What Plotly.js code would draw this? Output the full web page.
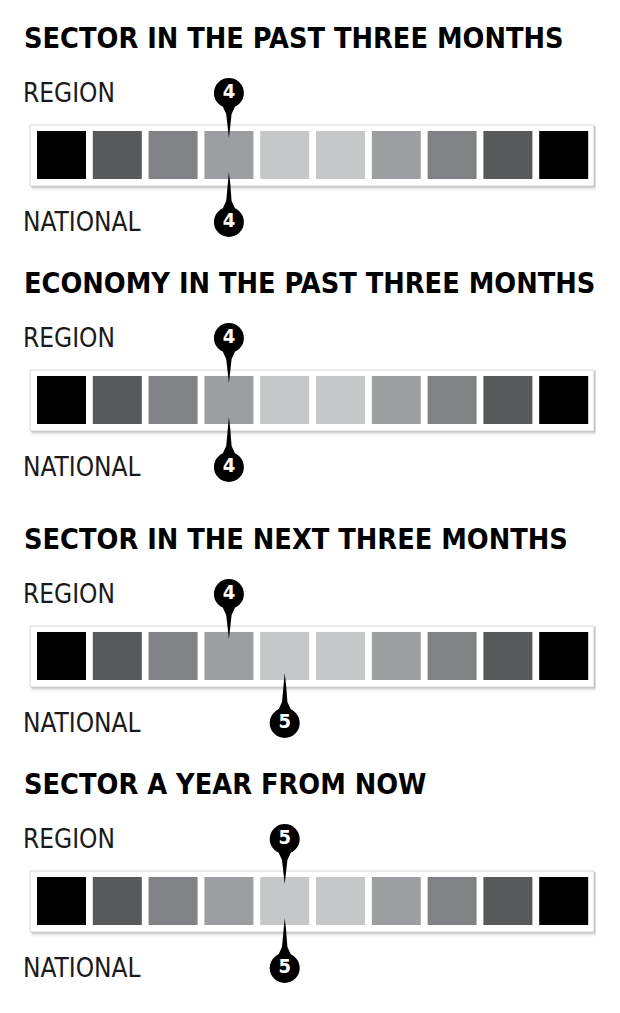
<!DOCTYPE html>
<html>
<head>
<meta charset="utf-8">
<script src="https://cdn.plot.ly/plotly-3.0.1.min.js"></script>
<style>html,body{margin:0;padding:0;background:#fff;}#chart{width:620px;height:1013px;}</style>
</head>
<body>
<div id="chart"></div>
<script>
// ---- data ----
const scaleSteps = [1, 2, 3, 4, 5, 6, 7, 8, 9, 10];
const panelTitles = [
  "SECTOR IN THE PAST THREE MONTHS",
  "ECONOMY IN THE PAST THREE MONTHS",
  "SECTOR IN THE NEXT THREE MONTHS",
  "SECTOR A YEAR FROM NOW"
];
const regionScores = [4, 4, 4, 5];
const nationalScores = [4, 4, 5, 5];
const rowLabels = ["REGION", "NATIONAL"];
const stepShades = ["#000000", "#58595b", "#808285", "#9c9ea1", "#c6c7c9",
                    "#c6c7c9", "#9c9ea1", "#808285", "#58595b", "#000000"];

// ---- layout constants (pixels) ----
const W = 620, H = 1013;
const squaresTop = [131, 376, 632, 877];
const pxPerStep = 55.8, firstCenter = 61.5;
const sqH = 48, sqW = 49;
const regionCy = -38, nationalCy = 91, circleR = 15;
const regionTip = 7, nationalTip = 41;
const CONDENSED = "DejaVu Sans Condensed, DejaVu Sans, sans-serif";

const xRange = [1 - firstCenter / pxPerStep, 1 + (W - firstCenter) / pxPerStep];
const u = 1 / pxPerStep; // x units per px

function tailPath(v, cy, tip, dir) {
  const L = Math.abs(tip - cy);
  const prof = [[7, 8], [circleR, 5.5], [circleR + 6, 2.7], [L - 12, 1.4], [L, 0]];
  const xs = [], ys = [];
  prof.forEach(p => { xs.push(v - p[1] * u); ys.push(cy + dir * p[0]); });
  for (let i = prof.length - 2; i >= 0; i--) { xs.push(v + prof[i][1] * u); ys.push(cy + dir * prof[i][0]); }
  return {xs, ys};
}

const data = [];
const layout = {
  width: W, height: H,
  margin: {l: 0, r: 0, t: 0, b: 0},
  paper_bgcolor: "#ffffff", plot_bgcolor: "#ffffff",
  showlegend: false,
  xaxis: {range: xRange, visible: false, fixedrange: true, domain: [0, 1]},
  shapes: [], annotations: []
};

panelTitles.forEach((title, k) => {
  const yName = k === 0 ? "y" : "y" + (k + 1);
  const yKey = k === 0 ? "yaxis" : "yaxis" + (k + 1);
  const top = squaresTop[k] - 110, bot = squaresTop[k] + 120;
  layout[yKey] = {
    domain: [1 - bot / H, 1 - top / H],
    range: [120, -110], visible: false, fixedrange: true, anchor: "x"
  };

  // frame shadow + frame
  const fx0 = 30 / W, fx1 = 594 / W;
  [[4.5, 0.04], [3, 0.06], [1.8, 0.09], [0.8, 0.12]].forEach(s => {
    layout.shapes.push({type: "rect", xref: "paper", yref: yName, layer: "below",
      x0: fx0 + 1.5 / W, x1: fx1 + 1.5 / W, y0: -5, y1: 55 + s[0],
      fillcolor: "rgba(0,0,0," + s[1] + ")", line: {width: 0}});
  });
  layout.shapes.push({type: "rect", xref: "paper", yref: yName, layer: "below",
    x0: fx0, x1: fx1, y0: -6, y1: 55,
    fillcolor: "#ffffff", line: {color: "#d6d6d6", width: 1}});

  // squares
  data.push({
    type: "bar", x: scaleSteps, y: scaleSteps.map(() => sqH), base: 0,
    width: sqW / pxPerStep, xaxis: "x", yaxis: yName,
    marker: {color: stepShades, line: {width: 0}},
    hoverinfo: "skip"
  });

  // tails
  const r = tailPath(regionScores[k], regionCy, regionTip, 1);
  const n = tailPath(nationalScores[k], nationalCy, nationalTip, -1);
  [r, n].forEach(t => data.push({
    type: "scatter", mode: "lines", x: t.xs, y: t.ys, fill: "toself",
    fillcolor: "#000000", line: {width: 0, color: "#000000"},
    xaxis: "x", yaxis: yName, hoverinfo: "skip"
  }));

  // circles with numbers
  data.push({
    type: "scatter", mode: "markers+text",
    x: [regionScores[k], nationalScores[k]], y: [regionCy, nationalCy],
    text: ["<b>" + regionScores[k] + "</b>", "<b>" + nationalScores[k] + "</b>"],
    textposition: "middle center",
    textfont: {family: CONDENSED, size: 20, color: "#ffffff"},
    marker: {size: 2 * circleR, color: "#000000", line: {width: 0}},
    xaxis: "x", yaxis: yName, hoverinfo: "skip", cliponaxis: false
  });

  // title
  layout.annotations.push({
    xref: "paper", yref: yName, x: 22 / W, y: -93, xanchor: "left", yanchor: "middle",
    text: "<b>" + title + "</b>", showarrow: false,
    font: {family: CONDENSED, size: 28.6, color: "#000000"}
  });
  // row labels
  layout.annotations.push({
    xref: "paper", yref: yName, x: 21 / W, y: regionCy, xanchor: "left", yanchor: "middle",
    text: rowLabels[0], showarrow: false,
    font: {family: CONDENSED, size: 26, color: "#1a1a1a"}
  });
  layout.annotations.push({
    xref: "paper", yref: yName, x: 21 / W, y: nationalCy, xanchor: "left", yanchor: "middle",
    text: rowLabels[1], showarrow: false,
    font: {family: CONDENSED, size: 26, color: "#1a1a1a"}
  });
});

Plotly.newPlot("chart", data, layout, {displayModeBar: false, staticPlot: true});
</script>
</body>
</html>
